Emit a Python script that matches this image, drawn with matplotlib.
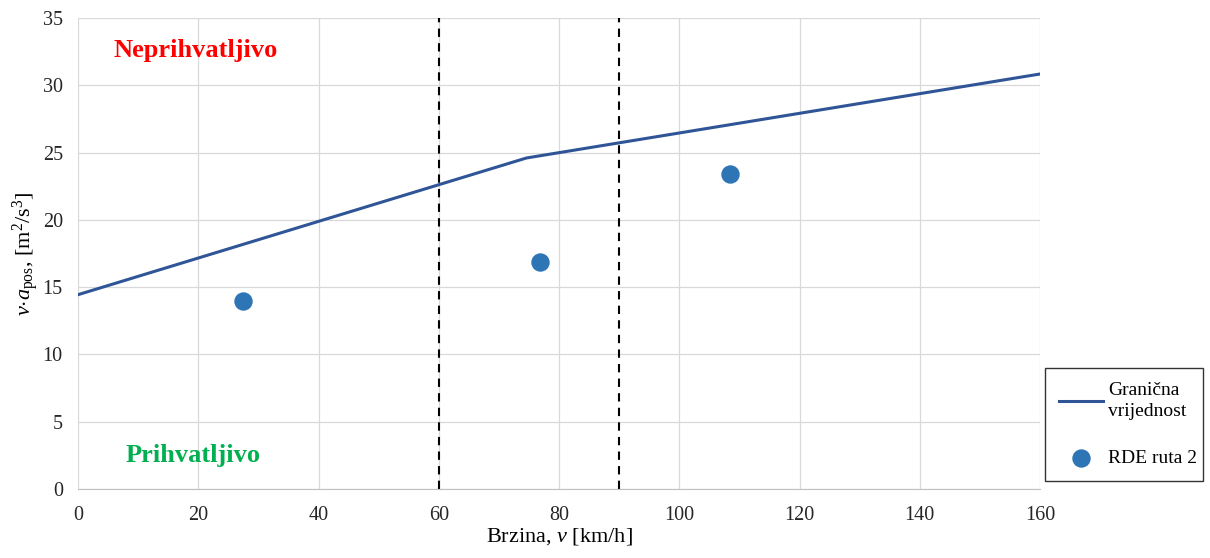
import matplotlib.pyplot as plt
import numpy as np

plt.rcParams["font.family"] = ["Liberation Serif", "DejaVu Serif"]
plt.rcParams["mathtext.fontset"] = "custom"
plt.rcParams["mathtext.rm"] = "Liberation Serif"
plt.rcParams["mathtext.it"] = "Liberation Serif:italic"

# Granična vrijednost (threshold line)
limit_v = [0, 74.6, 160]
limit_va = [14.44, 24.6, 30.84]

# RDE ruta 2 measurements
rde_v = [27.4, 76.8, 108.4]
rde_va = [13.95, 16.85, 23.4]

# speed bin boundaries
bounds = [60, 90]

fig = plt.figure(figsize=(12.1, 5.58), dpi=100)
ax = fig.add_axes([0.0645, 0.1237, 0.795, 0.844])

ax.plot(limit_v, limit_va, color="#2F5597", lw=2.2, label="Granična\nvrijednost", zorder=3)
ax.scatter(rde_v, rde_va, s=150, color="#2E75B6", label="RDE ruta 2", zorder=4)
for b in bounds:
    ax.axvline(b, color="black", ls=(0, (4, 3)), lw=1.5, zorder=2)

ax.text(19.5, 32.6, "Neprihvatljivo", color="#FF0000", fontsize=19, fontweight="bold",
        ha="center", va="center")
ax.text(19.2, 2.5, "Prihvatljivo", color="#00B050", fontsize=19, fontweight="bold",
        ha="center", va="center")

ax.set_xlim(0, 160)
ax.set_ylim(0, 35)
ax.set_xticks(np.arange(0, 161, 20))
ax.set_yticks(np.arange(0, 36, 5))
ax.grid(True, color="#D9D9D9", lw=0.9)
ax.set_axisbelow(True)
ax.tick_params(length=0, labelsize=14.5, labelcolor="#262626")
ax.tick_params(axis="x", pad=12)
ax.tick_params(axis="y", pad=11)
for s in ["top", "right", "left"]:
    ax.spines[s].set_visible(False)
ax.spines["bottom"].set_color("#BFBFBF")

ax.set_xlabel(r"Brzina, $\mathit{v}$ [km/h]", fontsize=16, labelpad=1)
ax.set_ylabel(r"$\mathit{v}{\cdot}\mathit{a}_{\rm pos}$, [m$^2$/s$^3$]", fontsize=16)
ax.yaxis.set_label_coords(-0.038, 0.5)

leg = fig.legend(loc="upper left",
                 bbox_to_anchor=(1045 / 1210, 1 - 484 / 558, 158 / 1210, 116 / 558),
                 mode="expand", fontsize=14, frameon=True, fancybox=False,
                 edgecolor="black", borderpad=0.7, labelspacing=1.5,
                 handlelength=2.3, handletextpad=0.26, borderaxespad=0)
leg.get_frame().set_linewidth(1.0)
for t in leg.get_texts():
    t.set_linespacing(1.35)

fig.savefig("out.png", dpi=100)
